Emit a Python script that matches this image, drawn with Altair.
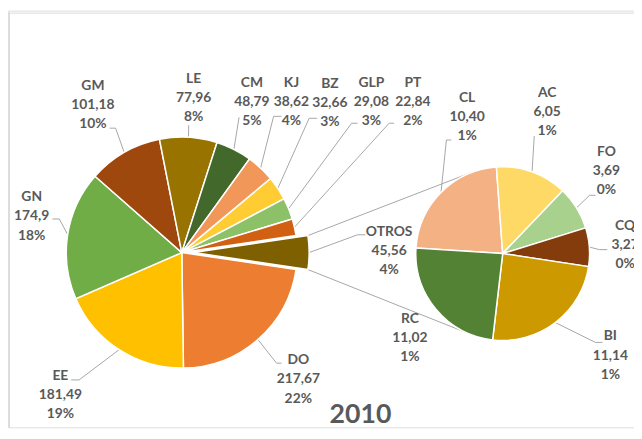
import math
import altair as alt
import pandas as pd

# ---------------- data ----------------
main_labels = ["OTROS", "DO", "EE", "GN", "GM", "LE", "CM", "KJ", "BZ", "GLP", "PT"]
main_values = [45.56, 217.67, 181.49, 174.9, 101.18, 77.96, 48.79, 38.62, 32.66, 29.08, 22.84]
main_value_text = ["45,56", "217,67", "181,49", "174,9", "101,18", "77,96", "48,79", "38,62", "32,66", "29,08", "22,84"]
main_pct_text = ["4%", "22%", "19%", "18%", "10%", "8%", "5%", "4%", "3%", "3%", "2%"]

sub_labels = ["CL", "AC", "FO", "CQ", "BI", "RC"]
sub_values = [10.40, 6.05, 3.69, 3.27, 11.14, 11.02]
sub_value_text = ["10,40", "6,05", "3,69", "3,27", "11,14", "11,02"]
sub_pct_text = ["1%", "1%", "0%", "0%", "1%", "1%"]

title_text = "2010"

# ---------------- styles ----------------
colors = {
    "OTROS": "#7F6000", "DO": "#ED7D31", "EE": "#FFC000", "GN": "#70AD47",
    "GM": "#9E480E", "LE": "#997300", "CM": "#43682B", "KJ": "#F1975A",
    "BZ": "#FFCD33", "GLP": "#8CC168", "PT": "#D26012",
    "CL": "#F4B183", "AC": "#FFD966", "FO": "#A9D18E", "CQ": "#843C0C",
    "BI": "#CC9900", "RC": "#548235",
}
TEXT_COLOR = "#595959"
LINE_COLOR = "#A6A6A6"
FONT = "Lato"

# ---------------- layout (page pixel coords) ----------------
OFF = 8
W, H = 634, 422
MAIN_C = (184, 253)
MAIN_R = 117
EXPLODE = 12
SUB_C = (509, 254)
SUB_R = 88
SUB_START_DEG = 273.7
LINE_H = 19.5
TITLE_POS = (365, 418)

label_pos = {
    "GM": (94, 84), "LE": (196, 77), "CM": (255, 81), "KJ": (295, 81),
    "BZ": (334, 82), "GLP": (376, 81), "PT": (418, 81), "OTROS": (394, 232),
    "DO": (302, 362), "EE": (61, 378), "GN": (32, 197),
    "CL": (473, 96), "AC": (554, 91), "FO": (614, 151), "CQ": (633, 226),
    "BI": (618, 338), "RC": (415, 320),
}
leader_anchor = {
    "GM": [(111, 127), (117, 127)], "LE": [(191, 124)], "CM": [(242, 116)],
    "KJ": [(285, 115), (277, 115)], "BZ": [(321, 117), (313, 117)],
    "GLP": [(362, 122), (356, 122)], "PT": [(399, 122), (394, 122)],
    "OTROS": [(370, 235), (362, 235)], "DO": [(285, 365), (280, 365)],
    "EE": [(72, 382), (80, 382)], "GN": [(53, 219), (60, 219)],
    "CL": [(457, 139), (452, 139)], "AC": [(541, 135)],
    "FO": [(603, 195), (597, 195)], "CQ": [(615, 250), (607, 250)],
    "BI": [(610, 344), (603, 344)],
}

# ---------------- derived tables ----------------
main_total = sum(main_values)
sub_total = sum(sub_values)
main_start = math.pi / 2 - math.pi * main_values[0] / main_total
sub_start = math.radians(SUB_START_DEG)


def cum(values):
    c0, c1, acc = [], [], 0.0
    for v in values:
        c0.append(acc)
        acc += v
        c1.append(acc)
    return c0, c1


m0, m1 = cum(main_values)
s0, s1 = cum(sub_values)
main_df = pd.DataFrame({"label": main_labels, "value": main_values, "c0": m0, "c1": m1})
sub_df = pd.DataFrame({"label": sub_labels, "value": sub_values, "c0": s0, "c1": s1})


def pt(center, r, ang):
    return (center[0] + r * math.sin(ang), center[1] - r * math.cos(ang))


# slice mid points (for leader lines)
mid_points = {}
for lab, a0, a1 in zip(main_labels, m0, m1):
    ang = main_start + 2 * math.pi * (a0 + a1) / 2 / main_total
    c = MAIN_C
    if lab == "OTROS":
        c = (MAIN_C[0] + EXPLODE * math.sin(ang), MAIN_C[1] - EXPLODE * math.cos(ang))
    mid_points[lab] = pt(c, MAIN_R, ang)
for lab, a0, a1 in zip(sub_labels, s0, s1):
    ang = sub_start + 2 * math.pi * (a0 + a1) / 2 / sub_total
    mid_points[lab] = pt(SUB_C, SUB_R, ang)

rows = []
for lab, anchors in leader_anchor.items():
    pts = list(anchors) + [mid_points[lab]]
    for i, (px, py) in enumerate(pts):
        rows.append({"id": lab, "k": i, "px": px - OFF, "py": py - OFF})

# connector lines between exploded OTROS slice and the secondary pie
otros_mid = main_start + math.pi * main_values[0] / main_total
ex_c = (MAIN_C[0] + EXPLODE * math.sin(otros_mid), MAIN_C[1] - EXPLODE * math.cos(otros_mid))
for name, ang, sign in [("top", main_start, 1), ("bot", main_start + 2 * math.pi * main_values[0] / main_total, -1)]:
    p = pt(ex_c, MAIN_R, ang)
    dx, dy = p[0] - SUB_C[0], p[1] - SUB_C[1]
    d = math.hypot(dx, dy)
    th = math.atan2(dx, -dy)
    t = pt(SUB_C, SUB_R, th + sign * math.acos(SUB_R / d))
    rows.append({"id": "conn_" + name, "k": 0, "px": p[0] - OFF, "py": p[1] - OFF})
    rows.append({"id": "conn_" + name, "k": 1, "px": t[0] - OFF, "py": t[1] - OFF})
lines_df = pd.DataFrame(rows)

trows = []
for labs, vals, pcts in [(main_labels, main_value_text, main_pct_text), (sub_labels, sub_value_text, sub_pct_text)]:
    for lab, v, p in zip(labs, vals, pcts):
        x, y = label_pos[lab]
        for i, s in enumerate([lab, v, p]):
            trows.append({"t": s, "tx": x - OFF, "ty": y + i * LINE_H - OFF})
text_df = pd.DataFrame(trows)

color_scale = alt.Scale(domain=list(colors.keys()), range=list(colors.values()))
main_theta = alt.Scale(domain=[0, main_total], range=[main_start, main_start + 2 * math.pi], nice=False, zero=False)
sub_theta = alt.Scale(domain=[0, sub_total], range=[sub_start, sub_start + 2 * math.pi], nice=False, zero=False)

# ---------------- layers ----------------
frame = alt.Chart(pd.DataFrame({"a": [0]})).mark_rule(color="#D9D9D9", strokeWidth=1)
frame_left = frame.encode(x=alt.value(1.5), y=alt.value(2), y2=alt.value(H))
frame_top = frame.encode(x=alt.value(1), x2=alt.value(W), y=alt.value(2.5))

lines = alt.Chart(lines_df).mark_line(color=LINE_COLOR, strokeWidth=1).encode(
    x=alt.X("px:Q", scale=None, axis=None),
    y=alt.Y("py:Q", scale=None, axis=None),
    detail="id:N",
    order="k:Q",
)

arc_style = dict(outerRadius=MAIN_R, stroke="white", strokeWidth=1.5)
main_arcs = alt.Chart(main_df).transform_filter(alt.datum.label != "OTROS").mark_arc(**arc_style).encode(
    theta=alt.Theta("c0:Q", scale=main_theta),
    theta2="c1:Q",
    color=alt.Color("label:N", scale=color_scale, legend=None),
    x=alt.value(MAIN_C[0] - OFF),
    y=alt.value(MAIN_C[1] - OFF),
)
otros_arc = alt.Chart(main_df).transform_filter(alt.datum.label == "OTROS").mark_arc(**arc_style).encode(
    theta=alt.Theta("c0:Q", scale=main_theta),
    theta2="c1:Q",
    color=alt.Color("label:N", scale=color_scale, legend=None),
    x=alt.value(ex_c[0] - OFF),
    y=alt.value(ex_c[1] - OFF),
)
sub_arcs = alt.Chart(sub_df).mark_arc(outerRadius=SUB_R, stroke="white", strokeWidth=1.5).encode(
    theta=alt.Theta("c0:Q", scale=sub_theta),
    theta2="c1:Q",
    color=alt.Color("label:N", scale=color_scale, legend=None),
    x=alt.value(SUB_C[0] - OFF),
    y=alt.value(SUB_C[1] - OFF),
)

texts = alt.Chart(text_df).mark_text(
    font=FONT, fontSize=14, fontWeight="bold", color=TEXT_COLOR, align="center", baseline="middle"
).encode(
    x=alt.X("tx:Q", scale=None, axis=None),
    y=alt.Y("ty:Q", scale=None, axis=None),
    text="t:N",
)

title = alt.Chart(pd.DataFrame({"t": [title_text]})).mark_text(
    font=FONT, fontSize=27, fontWeight="bold", color=TEXT_COLOR, align="center", baseline="middle"
).encode(x=alt.value(TITLE_POS[0] - OFF), y=alt.value(TITLE_POS[1] - OFF), text="t:N")

chart = alt.layer(
    frame_left, frame_top, lines, main_arcs, otros_arc, sub_arcs, texts, title
).resolve_scale(theta="independent").properties(
    width=W, height=H, autosize=alt.AutoSizeParams(type="none"), padding=0
).configure_view(stroke=None).configure(background="white")

chart.save("out.html", embed_options={"renderer": "svg", "actions": False})
